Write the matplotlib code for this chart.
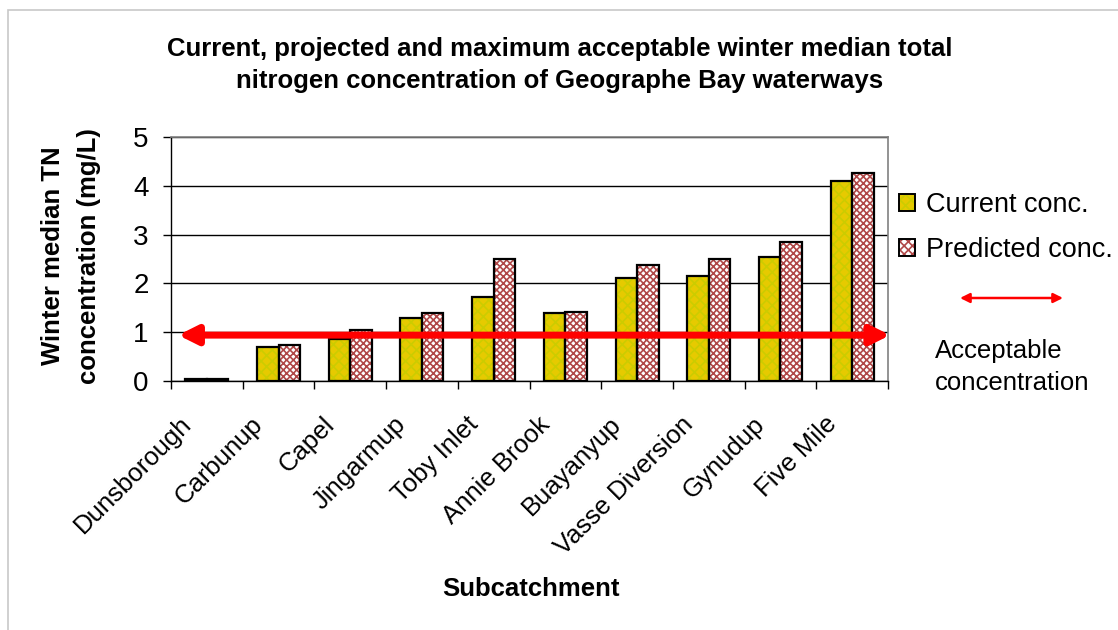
import matplotlib
matplotlib.use("Agg")
import matplotlib.pyplot as plt
import matplotlib.patches as mpatches
from matplotlib.legend_handler import HandlerTuple
from matplotlib.transforms import ScaledTranslation
import numpy as np

# --------------------------
# Data
# --------------------------
subcatchments = ["Dunsborough", "Carbunup", "Capel", "Jingarmup", "Toby Inlet",
                 "Annie Brook", "Buayanyup", "Vasse Diversion", "Gynudup", "Five Mile"]
current_conc = [0.04, 0.69, 0.86, 1.30, 1.73, 1.39, 2.12, 2.16, 2.55, 4.10]
predicted_conc = [0.04, 0.74, 1.04, 1.39, 2.51, 1.42, 2.38, 2.51, 2.85, 4.27]
acceptable_conc = 0.94

TITLE = ("Current, projected and maximum acceptable winter median total\n"
         "nitrogen concentration of Geographe Bay waterways")

# --------------------------
# Styling
# --------------------------
plt.rcParams["font.family"] = ["Liberation Sans", "DejaVu Sans"]
plt.rcParams["hatch.linewidth"] = 1.2

CUR_FACE, CUR_HATCH = "#E6CA00", "#CCCC00"
PRED_FACE, PRED_HATCH = "#FFFFFF", "#B04848"
ARROW_RED = "#FF0000"

W, H = 1118, 630
fig = plt.figure(figsize=(W / 100, H / 100), dpi=100)
ax = fig.add_axes([171 / W, 1 - 381 / H, (888 - 171) / W, (381 - 137) / H])

x = np.arange(len(subcatchments))
bw = 0.30


def hatched_bars(xpos, vals, face, hatch_col, hatch):
    # fill + coloured hatch first, then a plain black outline on top
    ax.bar(xpos, vals, bw, color=face, edgecolor=hatch_col, hatch=hatch,
           linewidth=0, zorder=3)
    ax.bar(xpos, vals, bw, fill=False, edgecolor="black", linewidth=1.6, zorder=4)


hatched_bars(x - bw / 2, current_conc, CUR_FACE, CUR_HATCH, "xxx")
hatched_bars(x + bw / 2, predicted_conc, PRED_FACE, PRED_HATCH, "xxxxx")

# acceptable concentration arrow across the plot
ax.annotate("", xy=(-0.40, acceptable_conc), xytext=(9.53, acceptable_conc),
            xycoords="data", textcoords="data", annotation_clip=False,
            arrowprops=dict(arrowstyle="<|-|>", color=ARROW_RED, lw=5,
                            mutation_scale=28, shrinkA=0, shrinkB=0),
            zorder=6)

# axes
ax.set_xlim(-0.5, len(subcatchments) - 0.5)
ax.set_ylim(0, 5)
ax.set_yticks(range(0, 6))
ax.yaxis.grid(True, color="black", linewidth=1.0)
ax.set_axisbelow(True)
ax.tick_params(axis="y", direction="out", length=6, width=1, pad=10, labelsize=20)

ax.set_xticks(np.arange(-0.5, len(subcatchments)), labels=[])
ax.set_xticks(x, labels=subcatchments, minor=True)
ax.tick_params(axis="x", which="major", direction="out", length=6, width=1)
ax.tick_params(axis="x", which="minor", length=0, pad=0, labelsize=18.5)
shift = ScaledTranslation(-0.28, -0.31, fig.dpi_scale_trans)
for lab in ax.get_xticklabels(minor=True):
    lab.set_rotation(45)
    lab.set_ha("right")
    lab.set_va("top")
    lab.set_rotation_mode("anchor")
    lab.set_transform(lab.get_transform() + shift)

for side in ["left", "bottom"]:
    ax.spines[side].set_color("black")
    ax.spines[side].set_linewidth(1.0)
for side in ["top", "right"]:
    ax.spines[side].set_color("#808080")
    ax.spines[side].set_linewidth(1.2)

# labels and title
fig.text(560 / W, 1 - 65 / H, TITLE, ha="center", va="center",
         fontsize=18.5, fontweight="bold", linespacing=1.4)
fig.text(71 / W, 1 - 256 / H, "Winter median TN\nconcentration (mg/L)",
         rotation=90, ha="center", va="center", fontsize=18.5,
         fontweight="bold", linespacing=1.6)
fig.text(531 / W, 1 - 589 / H, "Subcatchment", ha="center", va="center",
         fontsize=18.5, fontweight="bold")

# legend
cur_handle = (mpatches.Patch(facecolor=CUR_FACE, edgecolor=CUR_HATCH, hatch="xxx", linewidth=0),
              mpatches.Patch(fill=False, edgecolor="black", linewidth=1.4))
pred_handle = (mpatches.Patch(facecolor=PRED_FACE, edgecolor=PRED_HATCH, hatch="xxxx", linewidth=0),
               mpatches.Patch(fill=False, edgecolor="black", linewidth=1.4))
fig.legend([cur_handle, pred_handle], ["Current conc.", "Predicted conc."],
           handler_map={tuple: HandlerTuple(ndivide=1, pad=0)},
           loc="upper left", bbox_to_anchor=(899 / W, 1 - 192 / H),
           frameon=False, fontsize=19.5, handlelength=0.6, handleheight=0.55,
           handletextpad=0.4, labelspacing=0.7, borderaxespad=0, borderpad=0)

fig.add_artist(mpatches.FancyArrowPatch((960 / W, 1 - 298 / H), (1063 / W, 1 - 298 / H),
                                        transform=fig.transFigure, arrowstyle="<|-|>",
                                        color=ARROW_RED, lw=1.8, mutation_scale=14,
                                        shrinkA=0, shrinkB=0))
fig.text(935 / W, 1 - 367 / H, "Acceptable\nconcentration", ha="left", va="center",
         fontsize=18.5, linespacing=1.4)

# outer chart frame
fig.add_artist(mpatches.Rectangle((8 / W, -0.05), 1.1, 1 - 10 / H + 0.05,
                                  transform=fig.transFigure, fill=False,
                                  edgecolor="#C8C8C8", linewidth=1.2))

fig.savefig("out.png", dpi=100)
